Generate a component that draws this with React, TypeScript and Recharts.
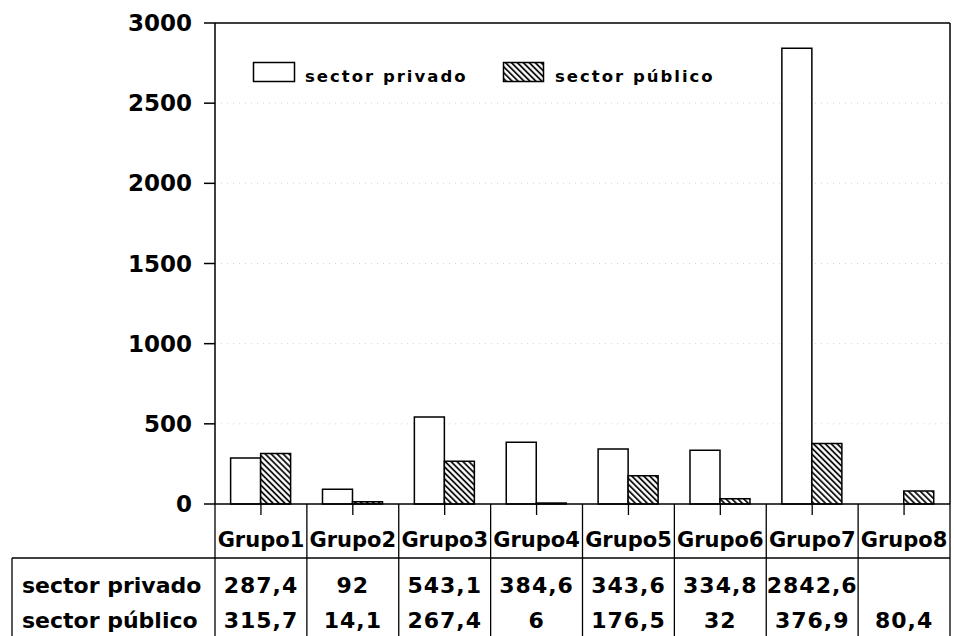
import React from 'react';
import { BarChart, Bar, XAxis, YAxis, CartesianGrid, Legend } from 'recharts';

// ---- data ----
const categories = ['Grupo1', 'Grupo2', 'Grupo3', 'Grupo4', 'Grupo5', 'Grupo6', 'Grupo7', 'Grupo8'];
const privado: (number | null)[] = [287.4, 92, 543.1, 384.6, 343.6, 334.8, 2842.6, null];
const publico: (number | null)[] = [315.7, 14.1, 267.4, 6, 176.5, 32, 376.9, 80.4];
const seriesNames = ['sector privado', 'sector público'];
const yTicks = [0, 500, 1000, 1500, 2000, 2500, 3000];

const data = categories.map((name, i) => ({ name, privado: privado[i], publico: publico[i] }));

// ---- layout ----
const W = 954;
const H = 636;
const MARGIN = { top: 22, right: 3, left: 0, bottom: 0 };
const YAXIS_W = 215;
const XAXIS_H = 132;
const BAND = (W - MARGIN.left - MARGIN.right - 1 - YAXIS_W) / categories.length;
const FONT = '"DejaVu Sans", sans-serif';

const fmt = (v: number | null) => (v == null ? '' : String(v).replace('.', ','));

const TableTick = (props: any) => {
  const { x, y, payload, index } = props;
  const half = BAND / 2;
  const line = { stroke: '#000', strokeWidth: 1.3 };
  const row = data[index];
  return (
    <g>
      <line x1={x} y1={y} x2={x} y2={y + 11} {...line} />
      <line x1={x + half} y1={y} x2={x + half} y2={H} {...line} />
      {index === 0 && (
        <g>
          <line x1={x - half} y1={y} x2={x - half} y2={H} {...line} />
          <line x1={12} y1={y + 54} x2={x - half + BAND * categories.length} y2={y + 54} {...line} />
          <line x1={12} y1={y + 54} x2={12} y2={H} {...line} />
          <text x={22} y={y + 89} fontFamily={FONT} fontWeight="bold" fontSize={22} fill="#000">
            {seriesNames[0]}
          </text>
          <text x={22} y={y + 124} fontFamily={FONT} fontWeight="bold" fontSize={22} fill="#000">
            {seriesNames[1]}
          </text>
        </g>
      )}
      <text x={x} y={y + 43} textAnchor="middle" fontFamily={FONT} fontWeight="bold" fontSize={21} fill="#000">
        {payload.value}
      </text>
      <text x={x} y={y + 89} textAnchor="middle" fontFamily={FONT} fontWeight="bold" fontSize={22} letterSpacing={1} fill="#000">
        {fmt(row.privado)}
      </text>
      <text x={x} y={y + 124} textAnchor="middle" fontFamily={FONT} fontWeight="bold" fontSize={22} letterSpacing={1} fill="#000">
        {fmt(row.publico)}
      </text>
    </g>
  );
};

const YTick = (props: any) => {
  const { x, y, payload } = props;
  return (
    <text x={x} y={y + 8} textAnchor="end" fontFamily={FONT} fontWeight="bold" fontSize={23} fill="#000">
      {payload.value}
    </text>
  );
};

const LegendContent = (props: any) => {
  const payload = props.payload || [];
  return (
    <svg width={480} height={30} style={{ overflow: 'visible' }}>
      {payload.map((entry: any, i: number) => {
        const ox = i * 250;
        const fill = i === 0 ? '#fff' : 'url(#hatch)';
        return (
          <g key={i}>
            <rect x={ox + 3.5} y={4.5} width={i === 0 ? 41 : 40} height={19} fill={fill} stroke="#000" strokeWidth={1.5} />
            <text x={ox + 55} y={24} fontFamily={FONT} fontWeight="bold" fontSize={16.5} letterSpacing={2} fill="#000">
              {entry.value}
            </text>
          </g>
        );
      })}
    </svg>
  );
};

export default function App() {
  return (
    <div style={{ position: 'absolute', left: 0, top: 0, background: '#fff' }}>
      <BarChart width={W} height={H} data={data} margin={MARGIN} barCategoryGap="17%" barGap={0}>
        <defs>
          <pattern id="hatch" patternUnits="userSpaceOnUse" width={4.2} height={4.2} patternTransform="rotate(-45)">
            <rect x={0} y={0} width={4.2} height={4.2} fill="#fff" />
            <line x1={1} y1={0} x2={1} y2={4.2} stroke="#000" strokeWidth={1.7} />
          </pattern>
        </defs>
        <CartesianGrid vertical={false} stroke="#d4d4d4" strokeDasharray="1 5" />
        <XAxis
          dataKey="name"
          height={XAXIS_H}
          interval={0}
          tickSize={0}
          tickMargin={0}
          tickLine={false}
          axisLine={{ stroke: '#000', strokeWidth: 1.5 }}
          tick={<TableTick />}
        />
        <XAxis
          xAxisId="top"
          dataKey="name"
          orientation="top"
          height={1}
          tick={false}
          tickLine={false}
          axisLine={{ stroke: '#000', strokeWidth: 1.5 }}
        />
        <YAxis
          width={YAXIS_W}
          domain={[0, 3000]}
          ticks={yTicks}
          interval={0}
          tickSize={11}
          tickMargin={12}
          axisLine={{ stroke: '#000', strokeWidth: 1.5 }}
          tickLine={{ stroke: '#000', strokeWidth: 1.5 }}
          tick={<YTick />}
        />
        <YAxis
          yAxisId="right"
          orientation="right"
          width={1}
          domain={[0, 3000]}
          tick={false}
          tickLine={false}
          axisLine={{ stroke: '#000', strokeWidth: 1.5 }}
        />
        <Legend
          layout="horizontal"
          verticalAlign="middle"
          align="center"
          wrapperStyle={{ left: 250, top: 58, width: 480, height: 30 }}
          content={<LegendContent />}
        />
        <Bar dataKey="privado" name={seriesNames[0]} fill="#fff" stroke="#000" strokeWidth={1.5} isAnimationActive={false} />
        <Bar dataKey="publico" name={seriesNames[1]} fill="url(#hatch)" stroke="#000" strokeWidth={1.5} isAnimationActive={false} />
      </BarChart>
    </div>
  );
}
